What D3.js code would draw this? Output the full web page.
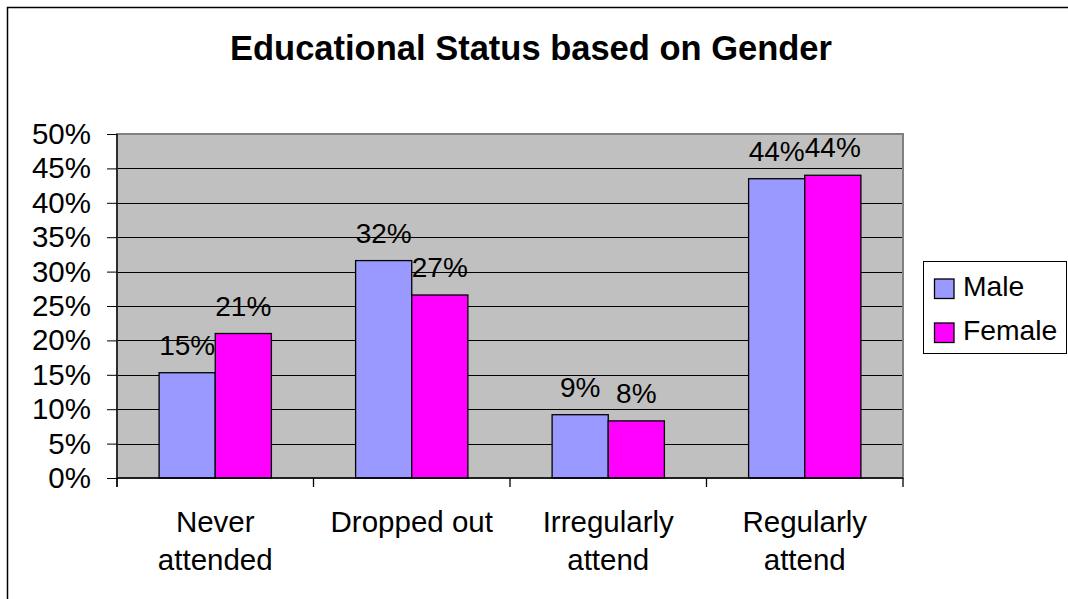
<!DOCTYPE html>
<html>
<head>
<meta charset="utf-8">
<script src="https://cdn.jsdelivr.net/npm/d3@7"></script>
<style>
  html, body { margin: 0; padding: 0; background: #fff; }
  svg { display: block; font-family: "Liberation Sans", Arial, sans-serif; }
</style>
</head>
<body>
<svg id="chart" width="1068" height="599"></svg>
<script>
const categories = [["Never", "attended"], ["Dropped out"], ["Irregularly", "attend"], ["Regularly", "attend"]];
const seriesNames = ["Male", "Female"];
const maleValues = [15.3, 31.6, 9.2, 43.5];
const femaleValues = [21.0, 26.6, 8.3, 44.0];
const yTicks = [0, 5, 10, 15, 20, 25, 30, 35, 40, 45, 50];
const colors = ["#9999FF", "#FF00FF"];
const title = "Educational Status based on Gender";

const svg = d3.select("#chart");
const W = 1068, H = 599;
const plot = { left: 117, right: 903, top: 134, bottom: 478 };

// outer chart border
svg.append("rect").attr("x", 7.5).attr("y", 7.5).attr("width", W + 10).attr("height", H + 10)
  .attr("fill", "#fff").attr("stroke", "#000").attr("stroke-width", 1.5);

// title
svg.append("text").attr("x", 531).attr("y", 60).attr("text-anchor", "middle")
  .attr("font-size", 34.5).attr("font-weight", "bold").attr("fill", "#000").text(title);

const catIdx = categories.map((d, i) => i);
const x = d3.scaleBand().domain(catIdx).range([plot.left, plot.right]).paddingInner(0).paddingOuter(0);
const y = d3.scaleLinear().domain([0, 50]).range([plot.bottom, plot.top]);
const bw = x.bandwidth() / 3.5;
const inner = d3.scaleBand().domain([0, 1]).range([0.75 * bw, 2.75 * bw]).padding(0);

// plot background
svg.append("rect").attr("x", plot.left).attr("y", plot.top)
  .attr("width", plot.right - plot.left).attr("height", plot.bottom - plot.top)
  .attr("fill", "#C0C0C0");

// gridlines
svg.append("g").selectAll("line").data(yTicks.filter(t => t > 0)).join("line")
  .attr("x1", plot.left).attr("x2", plot.right)
  .attr("y1", d => Math.round(y(d)) + 0.5).attr("y2", d => Math.round(y(d)) + 0.5)
  .attr("stroke", "#000").attr("stroke-width", 1);

// plot border (gray)
svg.append("rect").attr("x", plot.left).attr("y", plot.top)
  .attr("width", plot.right - plot.left).attr("height", plot.bottom - plot.top)
  .attr("fill", "none").attr("stroke", "#808080").attr("stroke-width", 2);

// bars
const series = [maleValues, femaleValues];
series.forEach((vals, si) => {
  svg.append("g").selectAll("rect").data(vals).join("rect")
    .attr("x", (d, i) => x(i) + inner(si))
    .attr("y", d => y(d))
    .attr("width", inner.bandwidth())
    .attr("height", d => plot.bottom - y(d))
    .attr("fill", colors[si]).attr("stroke", "#000").attr("stroke-width", 1.3);
});

// labels
series.forEach((vals, si) => {
  svg.append("g").selectAll("text").data(vals).join("text")
    .attr("x", (d, i) => x(i) + inner(si) + inner.bandwidth() / 2)
    .attr("y", d => y(d) - 18)
    .attr("text-anchor", "middle").attr("font-size", 28).attr("fill", "#000")
    .text(d => Math.round(d) + "%");
});

// y axis
const yAxis = d3.axisLeft(y).tickValues(yTicks).tickFormat(d => d + "%").tickSize(10).tickPadding(16);
const gy = svg.append("g").attr("transform", `translate(${plot.left},0)`).call(yAxis);
gy.select(".domain").remove();
gy.selectAll(".tick line").attr("stroke", "#000");
gy.selectAll(".tick text").attr("font-size", 29.5).attr("fill", "#000")
  .attr("font-family", "Liberation Sans, Arial, sans-serif");
svg.append("line").attr("x1", plot.left).attr("x2", plot.left).attr("y1", plot.top).attr("y2", plot.bottom + 9)
  .attr("stroke", "#000").attr("stroke-width", 1.3);

// x axis
svg.append("line").attr("x1", plot.left).attr("x2", plot.right).attr("y1", plot.bottom).attr("y2", plot.bottom)
  .attr("stroke", "#000").attr("stroke-width", 1.3);
const xTickPos = catIdx.map(i => x(i)).concat([plot.right]);
svg.append("g").selectAll("line").data(xTickPos).join("line")
  .attr("x1", d => d).attr("x2", d => d).attr("y1", plot.bottom).attr("y2", plot.bottom + 9)
  .attr("stroke", "#000").attr("stroke-width", 1.3);

const xl = svg.append("g").selectAll("text").data(catIdx).join("text")
  .attr("x", i => x(i) + x.bandwidth() / 2).attr("y", 532)
  .attr("text-anchor", "middle").attr("font-size", 29.5).attr("fill", "#000");
xl.selectAll("tspan").data(i => categories[i].map(t => ({ t, i }))).join("tspan")
  .attr("x", d => x(d.i) + x.bandwidth() / 2)
  .attr("dy", (d, j) => j === 0 ? 0 : 37.6)
  .text(d => d.t);

// legend
const lg = svg.append("g");
lg.append("rect").attr("x", 923.5).attr("y", 261.5).attr("width", 143).attr("height", 92)
  .attr("fill", "#fff").attr("stroke", "#000").attr("stroke-width", 1);
seriesNames.forEach((name, i) => {
  const cy = 288.5 + i * 44;
  lg.append("rect").attr("x", 934.5).attr("y", cy - 9.5).attr("width", 19.5).attr("height", 19.5)
    .attr("fill", colors[i]).attr("stroke", "#000").attr("stroke-width", 1.3);
  lg.append("text").attr("x", 963).attr("y", cy + 7.3).attr("font-size", 28.3).attr("fill", "#000").text(name);
});
</script>
</body>
</html>
